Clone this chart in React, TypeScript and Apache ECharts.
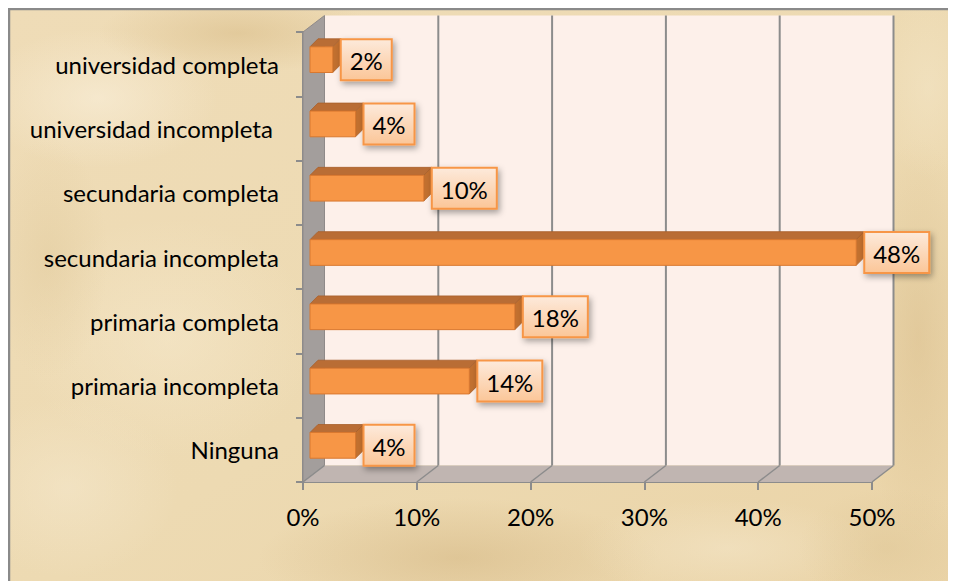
import React, { useEffect, useRef } from "react";
import * as echarts from "echarts";

const categories = [
  "Ninguna",
  "primaria incompleta",
  "primaria completa",
  "secundaria incompleta",
  "secundaria completa",
  "universidad incompleta ",
  "universidad completa",
];
const values = [4, 14, 18, 48, 10, 4, 2];
const xMin = 0;
const xMax = 50;
const xStep = 10;
const xTicks = [0, 10, 20, 30, 40, 50];

const FONT = "Lato";
const LABEL_SIZE = 24;

function measure(text: string, size: number) {
  const c = document.createElement("canvas");
  const ctx = c.getContext("2d");
  if (!ctx) return text.length * size * 0.5;
  ctx.font = `${size}px ${FONT}`;
  return ctx.measureText(text).width;
}

const BACK = [21.5, -16.5];
const BAR_OFF = [7, -4.5];
const BAR_DEPTH = [8, -8];

export default function App() {
  const ref = useRef<HTMLDivElement>(null);
  useEffect(() => {
    if (!ref.current) return;
    document.documentElement.style.overflow = "hidden";
    document.body.style.overflow = "hidden";
    const chart = echarts.init(ref.current, undefined, { renderer: "svg" });

    const spot = (cx: number, cy: number, rx: number, ry: number, color: string, a: number) => ({
      type: "ellipse",
      z: -9,
      silent: true,
      shape: { cx, cy, rx, ry },
      style: {
        fill: {
          type: "radial",
          x: 0.5,
          y: 0.5,
          r: 0.5,
          colorStops: [
            { offset: 0, color: `rgba(${color},${a})` },
            { offset: 1, color: `rgba(${color},0)` },
          ],
        },
      },
    });

    const option: any = {
      animation: false,
      backgroundColor: {
        type: "linear",
        x: 0,
        y: 0,
        x2: 1,
        y2: 1,
        colorStops: [
          { offset: 0, color: "#efdcb7" },
          { offset: 0.5, color: "#eddab2" },
          { offset: 1, color: "#ead3a6" },
        ],
      },
      graphic: [
        spot(90, 90, 120, 70, "250,240,220", 0.6),
        spot(230, 25, 140, 40, "218,190,138", 0.6),
        spot(160, 330, 150, 120, "248,236,210", 0.45),
        spot(60, 480, 110, 90, "245,232,205", 0.55),
        spot(450, 550, 200, 60, "210,180,128", 0.5),
        spot(720, 540, 150, 50, "245,232,205", 0.5),
        spot(910, 330, 60, 200, "216,188,138", 0.5),
        spot(920, 80, 50, 90, "244,230,200", 0.5),
        spot(880, 540, 90, 60, "222,198,150", 0.5),
        spot(40, 250, 60, 120, "222,198,150", 0.4),
        {
          type: "line",
          z: 100,
          silent: true,
          shape: { x1: 0, y1: 1, x2: 1000, y2: 1 },
          style: { stroke: "#8a8a8a", lineWidth: 2.5 },
        },
        {
          type: "line",
          z: 100,
          silent: true,
          shape: { x1: 1, y1: 0, x2: 1, y2: 620 },
          style: { stroke: "#8a8a8a", lineWidth: 2.5 },
        },
      ],
      grid: { left: 295, top: 24, width: 569, height: 450, containLabel: false },
      xAxis: {
        type: "value",
        min: xMin,
        max: xMax,
        interval: xStep,
        axisLine: { show: true, lineStyle: { color: "#8c8c8c", width: 2 } },
        axisTick: { show: true, length: 8, lineStyle: { color: "#8c8c8c", width: 2 } },
        splitLine: { show: false },
        axisLabel: {
          formatter: "{value}%",
          color: "#000",
          fontSize: LABEL_SIZE,
          fontFamily: FONT,
          margin: 22,
        },
      },
      yAxis: {
        type: "category",
        data: categories,
        axisLine: { show: true, lineStyle: { color: "#8c8c8c", width: 2 } },
        axisTick: { show: true, length: 7, lineStyle: { color: "#8c8c8c", width: 2 } },
        axisLabel: {
          color: "#000",
          fontSize: LABEL_SIZE,
          fontFamily: FONT,
          margin: 24,
        },
      },
      series: [
        {
          type: "custom",
          z: 1,
          silent: true,
          data: [[0, 0]],
          renderItem: (params: any, api: any) => {
            const cs = params.coordSys;
            const x0 = cs.x;
            const y0 = cs.y;
            const x1 = cs.x + cs.width;
            const y1 = cs.y + cs.height;
            const [bx, by] = BACK;
            const children: any[] = [];
            children.push({
              type: "rect",
              shape: { x: x0 + bx, y: y0 + by, width: cs.width, height: cs.height },
              style: { fill: "#fdf0ea" },
            });
            children.push({
              type: "polygon",
              shape: { points: [[x0, y0], [x0 + bx, y0 + by], [x0 + bx, y1 + by], [x0, y1]] },
              style: { fill: "#a39e9c", stroke: "#8f8a89", lineWidth: 1 },
            });
            children.push({
              type: "polygon",
              shape: { points: [[x0, y1], [x1, y1], [x1 + bx, y1 + by], [x0 + bx, y1 + by]] },
              style: { fill: "#c0b5b1" },
            });
            xTicks.forEach((t) => {
              const p = api.coord([t, 0]);
              const px = p[0];
              if (t !== xMin) {
                children.push({
                  type: "line",
                  shape: { x1: px + bx, y1: y0 + by, x2: px + bx, y2: y1 + by },
                  style: { stroke: "#8c8c8c", lineWidth: 2 },
                });
              }
              children.push({
                type: "line",
                shape: { x1: px, y1: y1, x2: px + bx, y2: y1 + by },
                style: { stroke: "#8c8c8c", lineWidth: 1.5 },
              });
            });
            return { type: "group", children };
          },
        },
        {
          type: "custom",
          z: 3,
          data: values.map((v, i) => [v, i]),
          renderItem: (params: any, api: any) => {
            const v = api.value(0);
            const i = api.value(1);
            const p0 = api.coord([0, i]);
            const p1 = api.coord([v, i]);
            const band = api.size([0, 1])[1];
            const h = band * 0.4;
            const x = p0[0] + BAR_OFF[0];
            const y = p0[1] + BAR_OFF[1] - h / 2;
            const w = p1[0] - p0[0];
            const [dx, dy] = BAR_DEPTH;
            const label = `${v}%`;
            const tw = measure(label, LABEL_SIZE);
            const bw = Math.round(tw + 18);
            const bh = 41;
            const lx = x + w + dx;
            const ly = y + h / 2 - bh / 2;
            return {
              type: "group",
              children: [
                {
                  type: "polygon",
                  shape: { points: [[x, y], [x + w, y], [x + w + dx, y + dy], [x + dx, y + dy]] },
                  style: { fill: "#b96d35", stroke: "#a85f2b", lineWidth: 0.8 },
                },
                {
                  type: "polygon",
                  shape: {
                    points: [[x + w, y], [x + w + dx, y + dy], [x + w + dx, y + h + dy], [x + w, y + h]],
                  },
                  style: { fill: "#c2702f", stroke: "#a85f2b", lineWidth: 0.8 },
                },
                {
                  type: "rect",
                  shape: { x, y, width: w, height: h },
                  style: { fill: "#f79646", stroke: "#d9782f", lineWidth: 1 },
                },
                {
                  type: "rect",
                  shape: { x: lx, y: ly, width: bw, height: bh },
                  style: {
                    fill: {
                      type: "linear",
                      x: 0,
                      y: 0,
                      x2: 0,
                      y2: 1,
                      colorStops: [
                        { offset: 0, color: "#fdeadb" },
                        { offset: 1, color: "#fbc698" },
                      ],
                    },
                    stroke: "#f79646",
                    lineWidth: 2,
                    shadowColor: "rgba(0,0,0,0.35)",
                    shadowBlur: 6,
                    shadowOffsetX: 2,
                    shadowOffsetY: 3,
                  },
                },
                {
                  type: "text",
                  style: {
                    text: label,
                    x: lx + bw / 2,
                    y: ly + bh / 2 + 1,
                    align: "center",
                    verticalAlign: "middle",
                    fill: "#000",
                    fontSize: LABEL_SIZE,
                    fontFamily: FONT,
                  },
                },
              ],
            };
          },
        },
      ],
    };
    chart.setOption(option);
    return () => chart.dispose();
  }, []);
  return <div ref={ref} style={{ width: 1000, height: 600 }} />;
}
